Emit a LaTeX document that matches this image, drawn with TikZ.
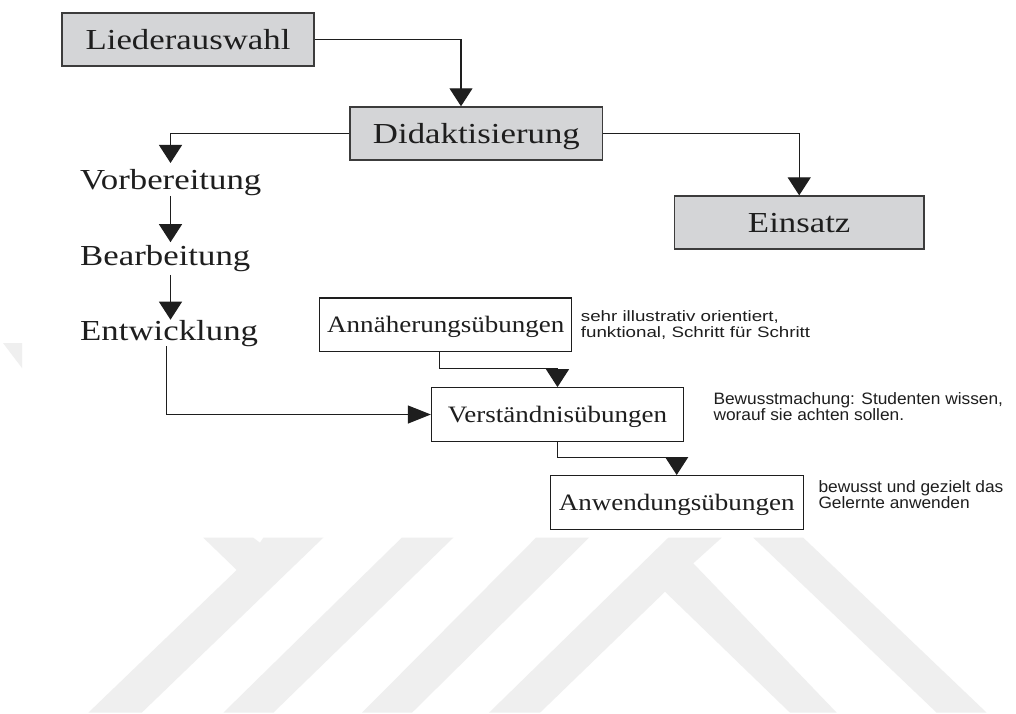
\documentclass[tikz,border=0pt]{standalone}
\usepackage{fontspec}
\usetikzlibrary{arrows.meta,calc}
\newfontfamily\bigserif[FakeStretch=1.2]{Liberation Serif}
\newfontfamily\smallserif[FakeStretch=1.15]{Liberation Serif}
\newfontfamily\noteAfont[FakeStretch=1.25]{Liberation Sans}
\newfontfamily\noteBfont[FakeStretch=1.05]{Liberation Sans}
\definecolor{boxgray}{RGB}{212,213,215}
\definecolor{wmgray}{RGB}{239,239,239}
\definecolor{ink}{RGB}{30,30,30}
\definecolor{edge}{RGB}{60,60,60}
\begin{document}
\begin{tikzpicture}[x=1pt,y=-1pt,
  graybox/.style={draw=edge, line width=1.5pt, fill=boxgray, inner sep=0pt, minimum height=53pt, text=ink, font=\bigserif\fontsize{29}{34}\selectfont, text height=19.5pt, text depth=0pt},
  whitebox/.style={draw=ink, line width=1.3pt, fill=white, inner sep=0pt, minimum width=252pt, minimum height=53.5pt, text=ink, font=\smallserif\fontsize{23.5}{28}\selectfont, text height=15.6pt, text depth=0pt},
  phase/.style={inner sep=0pt, anchor=base west, text=ink, font=\bigserif\fontsize{29}{34}\selectfont},
  noteA/.style={inner sep=0pt, anchor=west, align=left, text=ink, font=\noteAfont\fontsize{15}{16.5}\selectfont},
  noteB/.style={inner sep=0pt, anchor=west, align=left, text=ink, font=\noteBfont\fontsize{16.5}{15.5}\selectfont},
  conn/.style={draw=ink, line width=1.2pt},
  varr/.style={conn, -{Triangle[length=18pt,width=23pt]}},
  harr/.style={conn, -{Triangle[length=23pt,width=18pt]}},
  wm/.style={fill=wmgray, draw=none}
]
% background and watermark
\fill[white] (0,0) rectangle (1016,713);
\useasboundingbox (0,0) rectangle (1016,713);
\fill[wm] (203.3,537.7) -- (253.3,537.7) -- (260,542.7) -- (263.3,537.7) -- (323.3,537.7) -- (141.7,712.7) -- (88.3,712.7) -- (236.7,570) -- cycle;
\fill[wm] (401.7,537.7) -- (453.3,537.7) -- (273.3,712.7) -- (223.3,712.7) -- cycle;
\fill[wm] (536,537.7) -- (589,537.7) -- (412,712.7) -- (362,712.7) -- cycle;
\fill[wm] (668.3,537.7) -- (721.7,537.7) -- (693.3,563.3) -- (836.7,712.7) -- (790,712.7) -- (665,591.7) -- (540,712.7) -- (489,712.7) -- cycle;
\fill[wm] (753.3,537.7) -- (803.3,537.7) -- (986.7,712.7) -- (936.7,712.7) -- cycle;
\fill[wm] (3,343) -- (22,343) -- (22,368) -- cycle;

% nodes
\node[graybox, minimum width=252pt] (lieder) at (188,39.7) {Liederauswahl};
\node[graybox, minimum width=252.5pt] (didakt) at (476.4,133.5) {Didaktisierung};
\node[graybox, minimum width=249.5pt] (einsatz) at (799.2,222.6) {Einsatz};
\node[phase] (vorb) at (80,189.3) {Vorbereitung};
\node[phase] (bearb) at (80,265) {Bearbeitung};
\node[phase] (entw) at (80,340) {Entwicklung};
\node[whitebox] (annah) at (445.8,324.7) {Annäherungsübungen};
\node[whitebox] (verst) at (557.5,414.5) {Verständnisübungen};
\node[whitebox, minimum width=253pt] (anwend) at (676.7,502.4) {Anwendungsübungen};
\node[noteA] (noteann) at (580.7,325.2) {sehr illustrativ orientiert,\\funktional, Schritt für Schritt};
\node[noteB] (noteverst) at (713.3,406.8) {Bewusstmachung: Studenten wissen,\\worauf sie achten sollen.};
\node[noteB] (noteanw) at (818.3,494.8) {bewusst und gezielt das\\Gelernte anwenden};

\coordinate (colx) at (170.5,0);
\coordinate (colentw) at (166.7,0);

% connectors
\draw[varr] (lieder.east) -| ([xshift=-15.4pt]didakt.north);
\draw[varr] (didakt.east) -| (einsatz.north);
\draw[varr, shorten >=6pt] (didakt.west) -| (vorb.north -| colx);
\draw[varr, shorten >=2.5pt] (vorb.south -| colx) -- (bearb.north -| colx);
\draw[varr, shorten <=3.5pt] (bearb.south -| colx) -- (entw.north -| colx);
\draw[harr] (entw.south -| colentw) |- (verst.west);
\draw[varr] ([xshift=-6.5pt]annah.south) |- ([yshift=19pt]verst.north) -- (verst.north);
\draw[varr] (verst.south) |- ([yshift=17.5pt]anwend.north) -- (anwend.north);
\end{tikzpicture}
\end{document}
